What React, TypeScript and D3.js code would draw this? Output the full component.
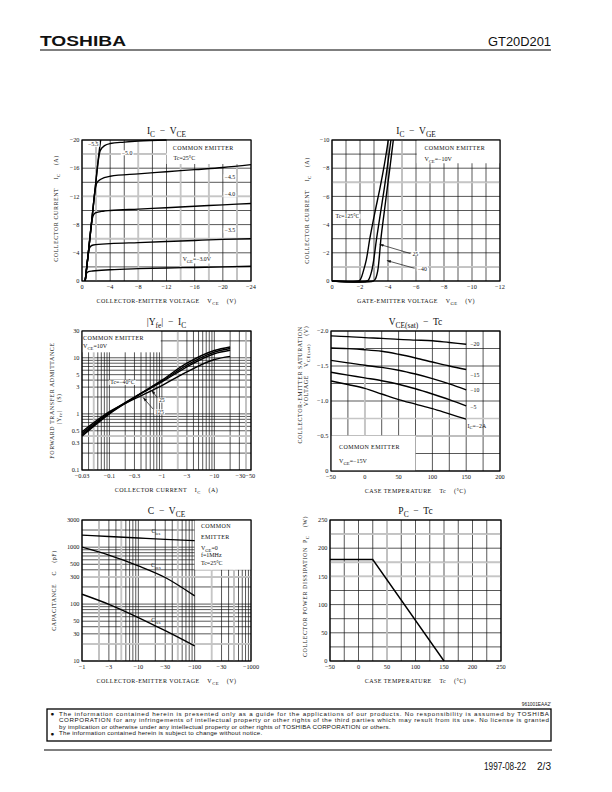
import React, { useEffect, useRef } from "react";
import * as d3 from "d3";

type Pt = [number, number];

const SERIF = "'Liberation Serif', 'DejaVu Serif', serif";
const SANS = "'Liberation Sans', 'DejaVu Sans', sans-serif";

// ---- I_C - V_CE  (common emitter, Tc = 25°C) : [V_CE, I_C] ----
const icVceGate = ["−5.5", "−5.0", "−4.5", "−4.0", "−3.5", "V_{GE}=−3.0V"];
const icVceCurves: Pt[][] = [
  [[-0.45, 0], [-0.9, -4], [-1.4, -8.7], [-1.9, -13.4], [-2.3, -17.2], [-2.65, -20]],
  [[-0.45, 0], [-0.9, -4], [-1.4, -8.7], [-1.9, -13.4], [-2.3, -17], [-2.6, -18.5], [-3.2, -19.2], [-4, -19.5], [-6, -19.7], [-8, -19.85], [-12, -20]],
  [[-0.45, 0], [-0.9, -4], [-1.4, -8.7], [-1.85, -12.8], [-2.1, -13.9], [-2.6, -14.4], [-4, -14.85], [-8, -15.2], [-12, -15.5], [-16, -15.8], [-20, -16.1], [-24, -16.5]],
  [[-0.45, 0], [-0.9, -4], [-1.3, -7.8], [-1.55, -9.2], [-1.9, -9.65], [-3, -9.9], [-4, -10.0], [-8, -10.2], [-12, -10.4], [-16, -10.6], [-20, -10.8], [-24, -11.0]],
  [[-0.45, 0], [-0.75, -2.6], [-0.95, -4.2], [-1.2, -4.9], [-1.6, -5.1], [-4, -5.3], [-8, -5.45], [-12, -5.6], [-16, -5.75], [-20, -5.9], [-24, -6.0]],
  [[-0.45, 0], [-0.55, -0.6], [-0.65, -1.1], [-0.85, -1.3], [-1.5, -1.42], [-4, -1.6], [-8, -1.75], [-12, -1.85], [-16, -1.92], [-20, -2.0], [-24, -2.1]],
];

// ---- I_C - V_GE  (V_CE = -10V) : [V_GE, I_C] ----
const icVgeTemps = ["Tc=125°C", "25", "−40"];
const icVgeCurves: Pt[][] = [
  [[0, 0], [-1.9, 0], [-2.05, -0.15], [-2.24, -0.7], [-2.45, -1.5], [-2.71, -3.05], [-3.05, -4.8], [-3.43, -6.6], [-3.75, -8.3], [-4.02, -10]],
  [[0, 0], [-2.5, 0], [-2.65, -0.15], [-2.83, -0.69], [-2.98, -1.5], [-3.19, -3.05], [-3.46, -4.8], [-3.74, -6.6], [-3.98, -8.3], [-4.21, -10]],
  [[0, 0], [-2.95, 0], [-3.1, -0.15], [-3.26, -0.69], [-3.36, -1.5], [-3.5, -3.05], [-3.72, -4.8], [-3.95, -6.6], [-4.17, -8.3], [-4.38, -10]],
];

// ---- |Yfe| - I_C  (V_CE = 10V) ----
const yfeIc = [-0.03, -0.1, -0.3, -1, -3, -10, -20];
const yfeTemps = ["Tc=−40°C", "25", "125"];
const yfeCurves: number[][] = [
  [0.40, 1.0, 1.95, 4.0, 8.0, 13.5, 15.6],
  [0.42, 1.03, 1.98, 3.85, 7.4, 12.6, 14.6],
  [0.45, 1.06, 2.0, 3.7, 6.9, 11.8, 13.6],
  [0.48, 1.1, 1.85, 3.2, 5.6, 9.3, 10.6],
];

// ---- V_CE(sat) - Tc  (V_GE = -15V) ----
const satTc = [-50, -25, 0, 25, 50, 75, 100, 125, 150];
const satIc = ["−20", "−15", "−10", "−5", "I_{C}=−2A"];
const satCurves: number[][] = [
  [-1.93, -1.92, -1.905, -1.895, -1.88, -1.87, -1.86, -1.835, -1.81],
  [-1.757, -1.748, -1.733, -1.71, -1.667, -1.615, -1.557, -1.5, -1.45],
  [-1.58, -1.545, -1.51, -1.48, -1.44, -1.385, -1.32, -1.245, -1.16],
  [-1.41, -1.37, -1.33, -1.29, -1.24, -1.175, -1.1, -1.02, -0.93],
  [-1.286, -1.235, -1.18, -1.1, -1.02, -0.955, -0.89, -0.815, -0.74],
];

// ---- C - V_CE  (V_GE = 0, f = 1MHz, Tc = 25°C) ----
const capVce = [-1, -3, -10, -30, -100];
const capNames = ["C_{ies}", "C_{oes}", "C_{res}"];
const capCurves: number[][] = [
  [1630, 1540, 1450, 1370, 1300],
  [1000, 725, 470, 293, 139],
  [149, 99, 58, 34, 18.4],
];

// ---- P_C - Tc ----
const pcTc = [-50, 25, 150];
const pcVal = [180, 180, 0];

const disclaimer = [
  "The information contained herein is presented only as a guide for the applications of our products. No responsibility is assumed by TOSHIBA",
  "CORPORATION for any infringements of intellectual property or other rights of the third parties which may result from its use. No license is granted",
  "by implication or otherwise under any intellectual property or other rights of TOSHIBA CORPORATION or others.",
  "The information contained herein is subject to change without notice.",
];

function rich(t: any, str: string, size: number) {
  const parts = str.split(/(_\{[^}]*\})/).filter((s) => s.length);
  let down = false;
  parts.forEach((p) => {
    const sub = p.startsWith("_{");
    const ts = t.append("tspan").text(sub ? p.slice(2, -1) : p).attr("font-size", sub ? size * 0.78 : size);
    if (sub && !down) { ts.attr("dy", size * 0.3); down = true; }
    else if (!sub && down) { ts.attr("dy", -size * 0.3); down = false; }
  });
}

function txt(g: any, x: number, y: number, str: string, o: any = {}) {
  const size = o.size ?? 6;
  const t = g.append("text")
    .attr("x", x).attr("y", y)
    .attr("font-family", o.family ?? SERIF)
    .attr("font-size", size)
    .attr("font-weight", o.weight ?? "normal")
    .attr("letter-spacing", o.ls ?? 0)
    .attr("text-anchor", o.anchor ?? "start")
    .attr("fill", "#111")
    .style("white-space", "pre");
  if (o.rotate) t.attr("transform", `rotate(-90 ${x} ${y})`);
  if (o.len) t.attr("textLength", o.len).attr("lengthAdjust", o.adj ?? "spacing");
  rich(t, str, size);
  if (o.bg) {
    const b = t.node().getBBox();
    g.insert("rect", () => t.node())
      .attr("x", b.x - 1).attr("y", b.y + 0.5).attr("width", b.width + 2).attr("height", b.height - 1)
      .attr("fill", "#fff");
  }
  return t;
}

function arrow(g: any, x1: number, y1: number, x2: number, y2: number) {
  g.append("line").attr("x1", x1).attr("y1", y1).attr("x2", x2).attr("y2", y2)
    .attr("stroke", "#111").attr("stroke-width", 0.7);
  const a = Math.atan2(y2 - y1, x2 - x1);
  const l = 4, w = 1.4;
  const p = [
    [x2, y2],
    [x2 - l * Math.cos(a) + w * Math.sin(a), y2 - l * Math.sin(a) - w * Math.cos(a)],
    [x2 - l * Math.cos(a) - w * Math.sin(a), y2 - l * Math.sin(a) + w * Math.cos(a)],
  ];
  g.append("path").attr("d", "M" + p.map((q) => q.join(",")).join("L") + "Z").attr("fill", "#111");
}

function logGrid(lo: number, hi: number, sign = 1) {
  const out: number[] = [];
  for (let e = Math.floor(Math.log10(lo)); e <= Math.ceil(Math.log10(hi)); e++) {
    for (let k = 1; k <= 9; k++) {
      const v = k * Math.pow(10, e);
      if (v >= lo * 0.999 && v <= hi * 1.001) out.push(sign * v);
    }
  }
  return out;
}

function panel(svg: any, p: any) {
  const g = svg.append("g");
  const [L, R] = p.x.range();
  const [B, T] = p.y.range();
  const grid = g.append("g").attr("stroke", "#111").attr("stroke-width", 0.7);
  p.gridX.forEach((v: number) => grid.append("line").attr("x1", p.x(v)).attr("x2", p.x(v)).attr("y1", T).attr("y2", B));
  p.gridY.forEach((v: number) => grid.append("line").attr("x1", L).attr("x2", R).attr("y1", p.y(v)).attr("y2", p.y(v)));
  const gray = g.append("g").attr("stroke", "#c6c6c6").attr("stroke-width", 1.7);
  (p.grayX || []).forEach((v: number) => gray.append("line").attr("x1", p.x(v)).attr("x2", p.x(v)).attr("y1", T).attr("y2", B));
  (p.grayY || []).forEach((v: number) => gray.append("line").attr("x1", L).attr("x2", R).attr("y1", p.y(v)).attr("y2", p.y(v)));
  if (p.box) {
    const [bx0, bx1, by0, by1] = p.box;
    g.append("rect")
      .attr("x", Math.min(p.x(bx0), p.x(bx1))).attr("y", Math.min(p.y(by0), p.y(by1)))
      .attr("width", Math.abs(p.x(bx1) - p.x(bx0))).attr("height", Math.abs(p.y(by1) - p.y(by0)))
      .attr("fill", "#fff");
  }
  g.append("rect").attr("x", L).attr("y", T).attr("width", R - L).attr("height", B - T)
    .attr("fill", "none").attr("stroke", "#000").attr("stroke-width", 1.2);
  p.xTicks.forEach(([v, s]: [number, string]) => txt(g, p.x(v), B + 8, s, { size: 6.3, anchor: "middle" }));
  p.yTicks.forEach(([v, s]: [number, string]) => txt(g, L - 2.5, p.y(v) + 2.2, s, { size: 6.3, anchor: "end" }));
  txt(g, (L + R) / 2, T - 6, p.title, { size: 9.5, anchor: "middle" });
  txt(g, (L + R) / 2, B + 22, p.xTitle, { size: 6, anchor: "middle", ls: 0.45 });
  p.yTitle.forEach((t: any) => txt(g, L + t.dx, (T + B) / 2 + t.dy, t.text, { size: 6, anchor: "middle", rotate: true, ls: 0.55 }));
  return g;
}

function curve(g: any, pts: Pt[], x: any, y: any, c: any = d3.curveMonotoneX) {
  const line = d3.line<Pt>().x((d) => x(d[0])).y((d) => y(d[1])).curve(c);
  g.append("path").attr("d", line(pts)).attr("fill", "none").attr("stroke", "#000").attr("stroke-width", 1.4);
}

export default function App() {
  const ref = useRef<SVGSVGElement>(null);

  useEffect(() => {
    const svg = d3.select(ref.current);
    svg.selectAll("*").remove();

    // === header ===
    txt(svg, 40, 46, "TOSHIBA", { size: 14, family: SANS, weight: 900, len: 86, adj: "spacingAndGlyphs" });
    txt(svg, 551, 46, "GT20D201", { size: 12.5, family: SANS, anchor: "end", len: 63, adj: "spacingAndGlyphs" });
    svg.append("line").attr("x1", 40).attr("x2", 551).attr("y1", 50).attr("y2", 50).attr("stroke", "#000").attr("stroke-width", 1.2);

    // === 1: IC - VCE ===
    const x1 = d3.scaleLinear().domain([0, -24]).range([82, 251]);
    const y1 = d3.scaleLinear().domain([0, -20]).range([281, 140]);
    const g1 = panel(svg, {
      x: x1, y: y1,
      gridX: d3.range(0, -25, -2), gridY: d3.range(0, -21, -2),
      grayX: [-2, -8, -14, -18, -22], grayY: [-6, -12, -18],
      xTicks: d3.range(0, -25, -4).map((v) => [v, v === 0 ? "0" : "−" + -v]),
      yTicks: d3.range(0, -21, -4).map((v) => [v, v === 0 ? "0" : "−" + -v]),
      title: "I_{C}  −  V_{CE}",
      xTitle: "COLLECTOR-EMITTER VOLTAGE    V_{CE}    (V)",
      yTitle: [{ text: "COLLECTOR CURRENT    I_{C}    (A)", dx: -24, dy: -2 }],
      box: [-12, -24, -16.6, -20],
    });
    icVceCurves.forEach((c) => curve(g1, c, x1, y1));
    txt(g1, x1(-1.6), y1(-19.1), icVceGate[0], { size: 5.8, anchor: "middle", bg: true });
    txt(g1, x1(-6.4), y1(-17.9), icVceGate[1], { size: 5.8, anchor: "middle", bg: true });
    txt(g1, x1(-21), y1(-14.5), icVceGate[2], { size: 5.8, anchor: "middle", bg: true });
    txt(g1, x1(-21), y1(-12.0), icVceGate[3], { size: 5.8, anchor: "middle", bg: true });
    txt(g1, x1(-21), y1(-6.9), icVceGate[4], { size: 5.8, anchor: "middle", bg: true });
    txt(g1, x1(-16.3), y1(-2.8), icVceGate[5], { size: 5.8, anchor: "middle", bg: true });
    txt(g1, x1(-12.9), y1(-18.6), "COMMON EMITTER", { size: 6, ls: 0.4 });
    txt(g1, x1(-13.0), y1(-17.2), "Tc=25°C", { size: 6 });

    // === 2: IC - VGE ===
    const x2 = d3.scaleLinear().domain([0, -12]).range([332, 500]);
    const y2 = d3.scaleLinear().domain([0, -10]).range([281, 140]);
    const g2 = panel(svg, {
      x: x2, y: y2,
      gridX: d3.range(0, -13, -1), gridY: d3.range(0, -11, -1),
      grayX: [-5], grayY: [-1, -7],
      xTicks: d3.range(0, -13, -2).map((v) => [v, v === 0 ? "0" : "−" + -v]),
      yTicks: d3.range(0, -11, -2).map((v) => [v, v === 0 ? "0" : "−" + -v]),
      title: "I_{C}  −  V_{GE}",
      xTitle: "GATE-EMITTER VOLTAGE    V_{GE}    (V)",
      yTitle: [{ text: "COLLECTOR CURRENT    I_{C}    (A)", dx: -23, dy: 0 }],
      box: [-6.05, -12, -8.35, -10],
    });
    txt(g2, x2(-0.25), y2(-4.45), icVgeTemps[0], { size: 5.8, bg: true });
    icVgeCurves.forEach((c) => curve(g2, c, x2, y2, d3.curveCatmullRom.alpha(0.5)));
    arrow(g2, x2(-5.6), y2(-1.95), x2(-3.4), y2(-2.6));
    arrow(g2, x2(-5.9), y2(-0.9), x2(-3.92), y2(-1.45));
    txt(g2, x2(-5.95), y2(-1.8), icVgeTemps[1], { size: 5.8, anchor: "middle", bg: true });
    txt(g2, x2(-6.45), y2(-0.72), icVgeTemps[2], { size: 5.8, anchor: "middle", bg: true });
    txt(g2, x2(-6.6), y2(-9.27), "COMMON EMITTER", { size: 6, ls: 0.4 });
    txt(g2, x2(-6.6), y2(-8.5), "V_{CE}=−10V", { size: 6 });

    // === 3: |Yfe| - IC ===
    const x3 = d3.scaleLog().domain([-0.03, -50]).range([82, 251]);
    const y3 = d3.scaleLog().domain([0.1, 30]).range([470, 331]);
    const g3 = panel(svg, {
      x: x3, y: y3,
      gridX: logGrid(0.03, 50, -1), gridY: logGrid(0.1, 30),
      grayX: [-0.05, -2, -40], grayY: [0.4],
      xTicks: [[-0.03, "−0.03"], [-0.1, "−0.1"], [-0.3, "−0.3"], [-1, "−1"], [-3, "−3"], [-10, "−10"], [-39, "−30−50"]],
      yTicks: [[0.1, "0.1"], [0.3, "0.3"], [0.5, "0.5"], [1, "1"], [3, "3"], [5, "5"], [10, "10"], [30, "30"]],
      title: "|Y_{fe}|  −  I_{C}",
      xTitle: "COLLECTOR CURRENT    I_{C}    (A)",
      yTitle: [
        { text: "FORWARD TRANSFER ADMITTANCE", dx: -28, dy: 0 },
        { text: "|Y_{fe}|    (S)", dx: -21.5, dy: 8 },
      ],
      box: [-0.03, -0.95, 12.5, 30],
    });
    yfeCurves.forEach((c) => curve(g3, c.map((v, i) => [yfeIc[i], v] as Pt), x3, y3));
    txt(g3, x3(-0.104), y3(3.35), yfeTemps[0], { size: 5.8, bg: true });
    arrow(g3, x3(-0.81), y3(1.97), x3(-0.64), y3(2.62));
    arrow(g3, x3(-0.68), y3(1.22), x3(-0.44), y3(1.95));
    txt(g3, x3(-1.0), y3(1.62), yfeTemps[1], { size: 5.8, anchor: "middle", bg: true });
    txt(g3, x3(-0.9), y3(1.0), yfeTemps[2], { size: 5.8, anchor: "middle", bg: true });
    txt(g3, x3(-0.0315), y3(21), "COMMON EMITTER", { size: 6, ls: 0.4 });
    txt(g3, x3(-0.0315), y3(14.9), "V_{CE}=10V", { size: 6 });

    // === 4: VCE(sat) - Tc ===
    const x4 = d3.scaleLinear().domain([-50, 200]).range([331, 500]);
    const y4 = d3.scaleLinear().domain([0, -2]).range([471, 331]);
    const g4 = panel(svg, {
      x: x4, y: y4,
      gridX: d3.range(-50, 201, 25), gridY: d3.range(0, -2.01, -0.25),
      grayX: [0], grayY: [-0.5, -0.75],
      xTicks: d3.range(-50, 201, 50).map((v) => [v, v < 0 ? "−" + -v : String(v)]),
      yTicks: [[0, "0"], [-0.5, "−0.5"], [-1, "−1.0"], [-1.5, "−1.5"], [-2, "−2.0"]],
      title: "V_{CE(sat)}  −  Tc",
      xTitle: "CASE TEMPERATURE    Tc    (°C)",
      yTitle: [
        { text: "COLLECTOR-EMITTER SATURATION", dx: -29, dy: -16 },
        { text: "VOLTAGE    V_{CE(sat)}    (V)", dx: -23, dy: -35 },
      ],
      box: [-50, 75, 0, -0.5],
    });
    satCurves.forEach((c) => curve(g4, c.map((v, i) => [satTc[i], v] as Pt), x4, y4));
    txt(g4, x4(156), y4(-1.78), satIc[0], { size: 5.8 });
    txt(g4, x4(156), y4(-1.35), satIc[1], { size: 5.8 });
    txt(g4, x4(156), y4(-1.13), satIc[2], { size: 5.8 });
    txt(g4, x4(156), y4(-0.88), satIc[3], { size: 5.8 });
    txt(g4, x4(152), y4(-0.62), satIc[4], { size: 5.8 });
    txt(g4, x4(-38), y4(-0.31), "COMMON EMITTER", { size: 6, ls: 0.4 });
    txt(g4, x4(-38), y4(-0.11), "V_{GE}=−15V", { size: 6 });

    // === 5: C - VCE ===
    const x5 = d3.scaleLog().domain([-1, -1000]).range([82, 251]);
    const y5 = d3.scaleLog().domain([10, 3000]).range([661, 520]);
    const g5 = panel(svg, {
      x: x5, y: y5,
      gridX: logGrid(1, 1000, -1), gridY: logGrid(10, 3000),
      grayX: [-2, -5, -50, -200, -500], grayY: [20, 300],
      xTicks: [[-1, "−1"], [-3, "−3"], [-10, "−10"], [-30, "−30"], [-100, "−100"], [-300, "−30"], [-1000, "−1000"]],
      yTicks: [[10, "10"], [30, "30"], [50, "50"], [100, "100"], [300, "300"], [500, "500"], [1000, "1000"], [3000, "3000"]],
      title: "C  −  V_{CE}",
      xTitle: "COLLECTOR-EMITTER VOLTAGE    V_{CE}    (V)",
      yTitle: [{ text: "CAPACITANCE    C    (pF)", dx: -26, dy: 0 }],
      box: [-100, -1000, 400, 3000],
    });
    capCurves.forEach((c) => curve(g5, c.map((v, i) => [capVce[i], v] as Pt), x5, y5));
    txt(g5, x5(-20.5), y5(1760), capNames[0], { size: 5.8, anchor: "middle" });
    txt(g5, x5(-20.5), y5(440), capNames[1], { size: 5.8, anchor: "middle" });
    txt(g5, x5(-20.5), y5(48), capNames[2], { size: 5.8, anchor: "middle" });
    txt(g5, x5(-129), y5(2150), "COMMON", { size: 6, ls: 0.4 });
    txt(g5, x5(-129), y5(1400), "EMITTER", { size: 6, ls: 0.4 });
    txt(g5, x5(-129), y5(900), "V_{GE}=0", { size: 6 });
    txt(g5, x5(-129), y5(660), "f=1MHz", { size: 6 });
    txt(g5, x5(-129), y5(495), "Tc=25°C", { size: 6 });

    // === 6: PC - Tc ===
    const x6 = d3.scaleLinear().domain([-50, 250]).range([330, 501]);
    const y6 = d3.scaleLinear().domain([0, 250]).range([661, 520]);
    const g6 = panel(svg, {
      x: x6, y: y6,
      gridX: d3.range(-50, 251, 25), gridY: d3.range(0, 251, 25),
      grayX: [50], grayY: [150, 175, 225],
      xTicks: d3.range(-50, 251, 50).map((v) => [v, v < 0 ? "−" + -v : String(v)]),
      yTicks: d3.range(0, 251, 50).map((v) => [v, String(v)]),
      title: "P_{C}  −  Tc",
      xTitle: "CASE TEMPERATURE    Tc    (°C)",
      yTitle: [{ text: "COLLECTOR POWER DISSIPATION  P_{C}    (W)", dx: -23, dy: -4 }],
    });
    curve(g6, pcTc.map((t, i) => [t, pcVal[i]] as Pt), x6, y6, d3.curveLinear);

    // === footer ===
    txt(svg, 551, 706, "961001EAA2'", { size: 4.8, family: SANS, anchor: "end" });
    svg.append("rect").attr("x", 47).attr("y", 709).attr("width", 504).attr("height", 32)
      .attr("fill", "none").attr("stroke", "#000").attr("stroke-width", 1.3);
    disclaimer.forEach((s, i) => {
      const yy = 716 + i * 6.4;
      if (i === 0 || i === 3) txt(svg, 50.5, yy + 0.3, "●", { size: 6.3, family: SANS });
      txt(svg, 59, yy, s, { size: 6.2, family: SANS, ls: i < 2 ? 0 : 0.22, len: i < 2 ? 490 : undefined });
    });
    svg.append("line").attr("x1", 44).attr("x2", 552).attr("y1", 750).attr("y2", 750).attr("stroke", "#000").attr("stroke-width", 1);
    txt(svg, 551, 770, "2/3", { size: 10.5, family: SANS, anchor: "end", len: 14, adj: "spacingAndGlyphs" });
    txt(svg, 526, 770, "1997-08-22", { size: 10.5, family: SANS, anchor: "end", len: 42, adj: "spacingAndGlyphs" });
  }, []);

  return (
    <svg
      ref={ref}
      width={612}
      height={792}
      style={{ position: "absolute", left: 0, top: 0, background: "#fff" }}
    />
  );
}
